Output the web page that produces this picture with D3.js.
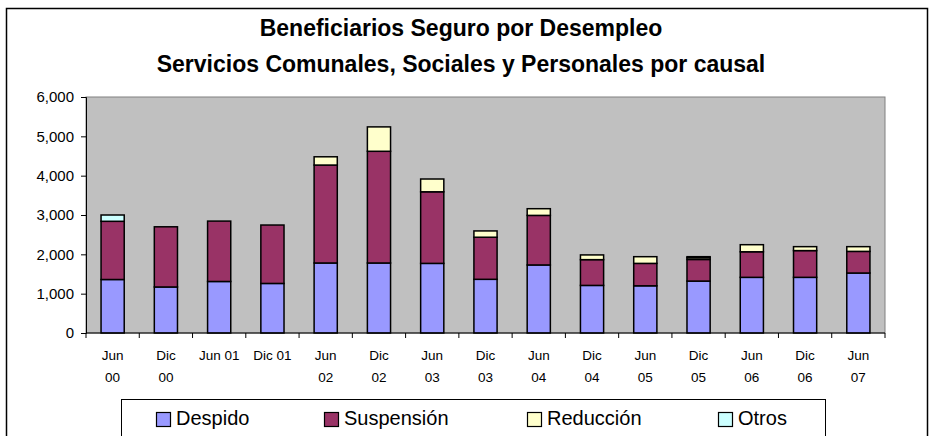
<!DOCTYPE html>
<html>
<head>
<meta charset="utf-8">
<script src="https://cdn.jsdelivr.net/npm/d3@7"></script>
<style>
    body { margin: 0; background: #fff; }
    svg { display: block; font-family: "Liberation Sans", Arial, sans-serif; }
</style>
</head>
<body>
<svg width="932" height="436"></svg>
<script>
// periodos (una o dos lineas por etiqueta)
const categories = ["Jun 00", "Dic 00", "Jun 01", "Dic 01", "Jun 02", "Dic 02", "Jun 03", "Dic 03",
    "Jun 04", "Dic 04", "Jun 05", "Dic 05", "Jun 06", "Dic 06", "Jun 07"];
const labelLines = [["Jun", "00"], ["Dic", "00"], ["Jun 01"], ["Dic 01"], ["Jun", "02"], ["Dic", "02"],
    ["Jun", "03"], ["Dic", "03"], ["Jun", "04"], ["Dic", "04"], ["Jun", "05"], ["Dic", "05"],
    ["Jun", "06"], ["Dic", "06"], ["Jun", "07"]];

const despido    = [1360, 1170, 1310, 1260, 1780, 1780, 1770, 1365, 1730, 1210, 1200, 1320, 1415, 1415, 1525];
const suspension = [1480, 1530, 1535, 1485, 2490, 2840, 1820, 1070, 1260,  655,  570,  550,  650,  680,  550];
const reduccion  = [   0,    0,    0,    0,  210,  620,  325,  160,  170,  120,  170,   45,  180,  100,  120];
const otros      = [ 160,    0,    0,    0,    0,    0,    0,    0,    0,    0,    0,   25,    0,    0,    0];

const seriesNames = ["Despido", "Suspensión", "Reducción", "Otros"];
const seriesColors = ["#9999ff", "#993366", "#ffffcc", "#ccffff"];
const yTicks = [0, 1000, 2000, 3000, 4000, 5000, 6000];

const svg = d3.select("svg");
const plot = {left: 86, right: 885, top: 97, bottom: 333};

// marco exterior
svg.append("rect")
    .attr("x", 6.5).attr("y", 8.5)
    .attr("width", 921).attr("height", 440)
    .attr("fill", "#fff").attr("stroke", "#000").attr("stroke-width", 1.5);

// titulo
const title = svg.append("text")
    .attr("text-anchor", "middle")
    .attr("font-weight", "bold")
    .attr("font-size", 23);
title.append("tspan").attr("x", 461).attr("y", 36).text("Beneficiarios Seguro por Desempleo");
title.append("tspan").attr("x", 461).attr("y", 72).text("Servicios Comunales, Sociales y Personales por causal");

const x = d3.scaleBand()
    .domain(categories)
    .range([plot.left, plot.right])
    .paddingInner(0.565)
    .paddingOuter(0.2825);

const y = d3.scaleLinear()
    .domain([0, 6000])
    .range([plot.bottom, plot.top]);

// area de trazado
svg.append("rect")
    .attr("x", plot.left).attr("y", plot.top)
    .attr("width", plot.right - plot.left).attr("height", plot.bottom - plot.top)
    .attr("fill", "#c0c0c0").attr("stroke", "#808080").attr("stroke-width", 1);

const rows = categories.map((c, i) => ({
    cat: c, Despido: despido[i], "Suspensión": suspension[i], "Reducción": reduccion[i], Otros: otros[i]
}));
const stacked = d3.stack().keys(seriesNames)(rows);

svg.append("g")
    .selectAll("g")
    .data(stacked)
    .join("g")
    .attr("fill", (d, i) => seriesColors[i])
    .selectAll("rect")
    .data((d) => d.filter((p) => p[1] > p[0]))
    .join("rect")
    .attr("x", (d) => x(d.data.cat))
    .attr("y", (d) => y(d[1]))
    .attr("width", x.bandwidth())
    .attr("height", (d) => y(d[0]) - y(d[1]))
    .attr("stroke", "#000")
    .attr("stroke-width", 1.5);

// eje Y
const yAxis = svg.append("g")
    .attr("transform", `translate(${plot.left},0)`)
    .call(d3.axisLeft(y).tickValues(yTicks).tickFormat(d3.format(",")).tickSize(5).tickPadding(7));
yAxis.selectAll("text").attr("font-size", 15).attr("fill", "#000");
yAxis.select(".domain").attr("stroke", "#000");

// eje X: marcas entre categorias
const step = x.step();
const xAxis = svg.append("g");
xAxis.append("line")
    .attr("x1", plot.left).attr("x2", plot.right)
    .attr("y1", plot.bottom).attr("y2", plot.bottom)
    .attr("stroke", "#000");
xAxis.selectAll(".tk")
    .data(d3.range(categories.length + 1))
    .join("line")
    .attr("x1", (i) => plot.left + i * step).attr("x2", (i) => plot.left + i * step)
    .attr("y1", plot.bottom).attr("y2", plot.bottom + 5)
    .attr("stroke", "#000");

const labels = xAxis.selectAll(".lbl")
    .data(categories)
    .join("text")
    .attr("text-anchor", "middle")
    .attr("font-size", 13.5);
labels.each(function(c, i) {
    const cx = x(c) + x.bandwidth() / 2;
    d3.select(this).selectAll("tspan")
        .data(labelLines[i])
        .join("tspan")
        .attr("x", cx)
        .attr("y", (d, j) => 360 + j * 22)
        .text((d) => d);
});

// leyenda
svg.append("rect")
    .attr("x", 121.5).attr("y", 399.5)
    .attr("width", 704).attr("height", 60)
    .attr("fill", "#fff").attr("stroke", "#000").attr("stroke-width", 1);

const legendX = [156, 324, 527, 718];
const leg = svg.append("g")
    .selectAll("g")
    .data(seriesNames)
    .join("g")
    .attr("transform", (d, i) => `translate(${legendX[i]},411)`);
leg.append("rect")
    .attr("x", 0.5).attr("y", 1.5)
    .attr("width", 14).attr("height", 14)
    .attr("fill", (d, i) => seriesColors[i])
    .attr("stroke", "#000").attr("stroke-width", 1.2);
leg.append("text")
    .attr("x", 20).attr("y", 14)
    .attr("font-size", 20)
    .text((d) => d);
</script>
</body>
</html>
